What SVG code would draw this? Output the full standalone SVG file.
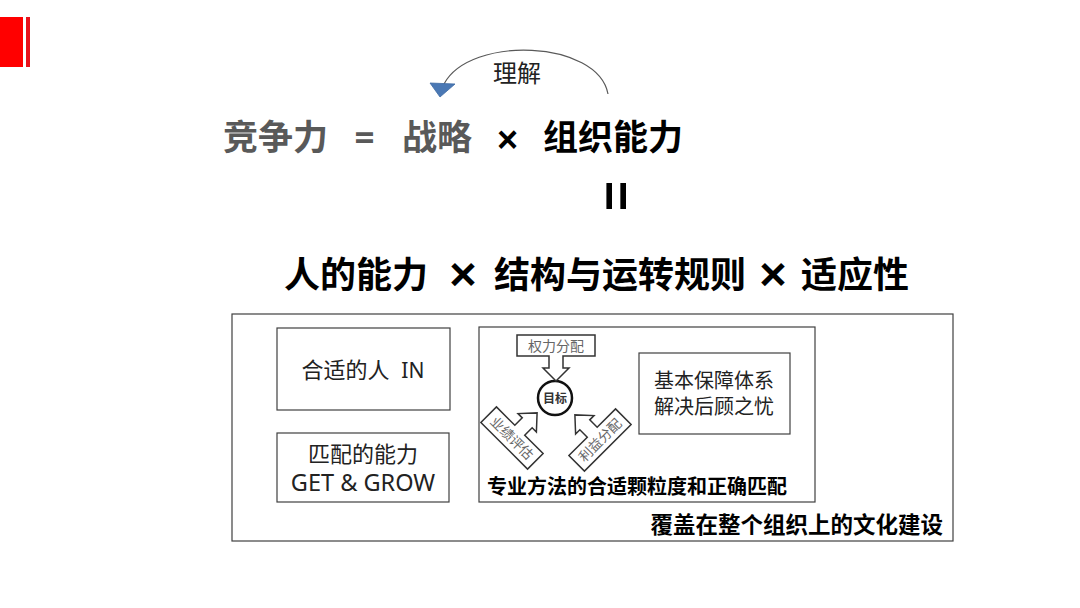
<svg xmlns="http://www.w3.org/2000/svg" width="1080" height="608" viewBox="0 0 1080 608">
<style>
.cjk{font-family:"Noto Sans","Noto Sans CJK SC",sans-serif;}
.lat{font-family:"Liberation Sans",Arial,sans-serif;font-weight:bold;}
.b{font-weight:bold;}
.gray{fill:#595959;}
.blk{fill:#000;}
.box{fill:#fff;stroke:#404040;stroke-width:1.2;}
.call{fill:#fff;stroke:#333;stroke-width:1.5;stroke-linejoin:miter;}
.small{font-size:13.5px;fill:#666;}
</style>
<rect width="1080" height="608" fill="#fff"/>
<g id="logo">
<rect x="0" y="17" width="23" height="50" fill="#ff0000"/>
<rect x="26" y="17" width="4" height="50" fill="#e8121c"/>
</g>
<g id="connectors">
<path d="M608,94 C598,40 470,35 444,84" fill="none" stroke="#595959" stroke-width="1.2"/>
<polygon points="430,83 455,84 440,97" fill="#4a78b4" stroke="#3d6aa3" stroke-width="0.8"/>
</g>
<g id="label-lijie">
<text class="cjk" x="517" y="82" font-size="24" text-anchor="middle" fill="#222">理解</text>
</g>
<g id="formula1" class="cjk b">
<text x="223" y="150" font-size="35" class="gray">竞争力</text>
<text x="364.5" y="150" font-size="35" class="gray" text-anchor="middle">=</text>
<text x="402" y="150" font-size="35" class="gray">战略</text>
<text x="507.5" y="152" font-size="36" class="blk lat" text-anchor="middle">×</text>
<text x="543" y="150" font-size="35" class="blk">组织能力</text>
<text transform="translate(616.5,196) rotate(90)" x="0" y="17.6" font-size="52" class="blk lat" text-anchor="middle">=</text>
</g>
<g id="formula2" class="cjk b blk">
<text x="284" y="288" font-size="36">人的能力</text>
<text x="463" y="290" font-size="47" class="lat" text-anchor="middle">×</text>
<text x="494" y="288" font-size="36">结构与运转规则</text>
<text x="773" y="290" font-size="47" class="lat" text-anchor="middle">×</text>
<text x="801" y="288" font-size="36">适应性</text>
</g>
<g id="outer">
<rect class="box" x="232" y="314" width="721" height="227"/>
<text class="cjk b blk" x="943" y="533" font-size="22.5" text-anchor="end">覆盖在整个组织上的文化建设</text>
</g>
<g id="node-people">
<rect class="box" x="277" y="328" width="173" height="82"/>
<text class="cjk" x="363" y="378" font-size="22" text-anchor="middle" fill="#222">合适的人 <tspan dx="6" font-size="21">IN</tspan></text>
</g>
<g id="node-ability">
<rect class="box" x="277" y="433" width="172" height="69"/>
<text class="cjk" x="363" y="462" font-size="22" text-anchor="middle" fill="#222">匹配的能力</text>
<text class="cjk" x="363" y="491" font-size="23.5" text-anchor="middle" fill="#222">GET &amp; GROW</text>
</g>
<g id="node-method">
<rect class="box" x="479" y="327" width="336" height="175"/>
<text class="cjk b blk" x="487" y="494" font-size="20">专业方法的合适颗粒度和正确匹配</text>
</g>
<g id="node-target">
<circle cx="555" cy="398" r="17" fill="#fff" stroke="#111" stroke-width="2.5"/>
<text class="cjk b" x="555" y="403" font-size="12" text-anchor="middle" fill="#333">目标</text>
</g>
<g id="node-power">
<path class="call" d="M517,335 H595 V356 H563 V368 H569 L556,381 L543,368 H549 V356 H517 Z"/>
<text class="cjk" x="556" y="351" font-size="14" text-anchor="middle" fill="#666">权力分配</text>
</g>
<g id="node-perf" transform="translate(512,438) rotate(45)">
<path class="call" d="M-33,-11 H-7 V-21.5 H-13 L0,-35.5 L13,-21.5 H7 V-11 H33 V11 H-33 Z"/>
<text class="cjk small" x="0" y="5" text-anchor="middle">业绩评估</text>
</g>
<g id="node-benefit" transform="translate(600,440) rotate(-45)">
<path class="call" d="M-33,-11 H-7 V-21.5 H-13 L0,-35.5 L13,-21.5 H7 V-11 H33 V11 H-33 Z"/>
<text class="cjk small" x="0" y="5" text-anchor="middle">利益分配</text>
</g>
<g id="node-guarantee">
<rect class="box" x="639" y="353" width="151" height="81"/>
<text class="cjk" x="714" y="388" font-size="20" text-anchor="middle" fill="#222">基本保障体系</text>
<text class="cjk" x="714" y="414" font-size="20" text-anchor="middle" fill="#222">解决后顾之忧</text>
</g>
</svg>
